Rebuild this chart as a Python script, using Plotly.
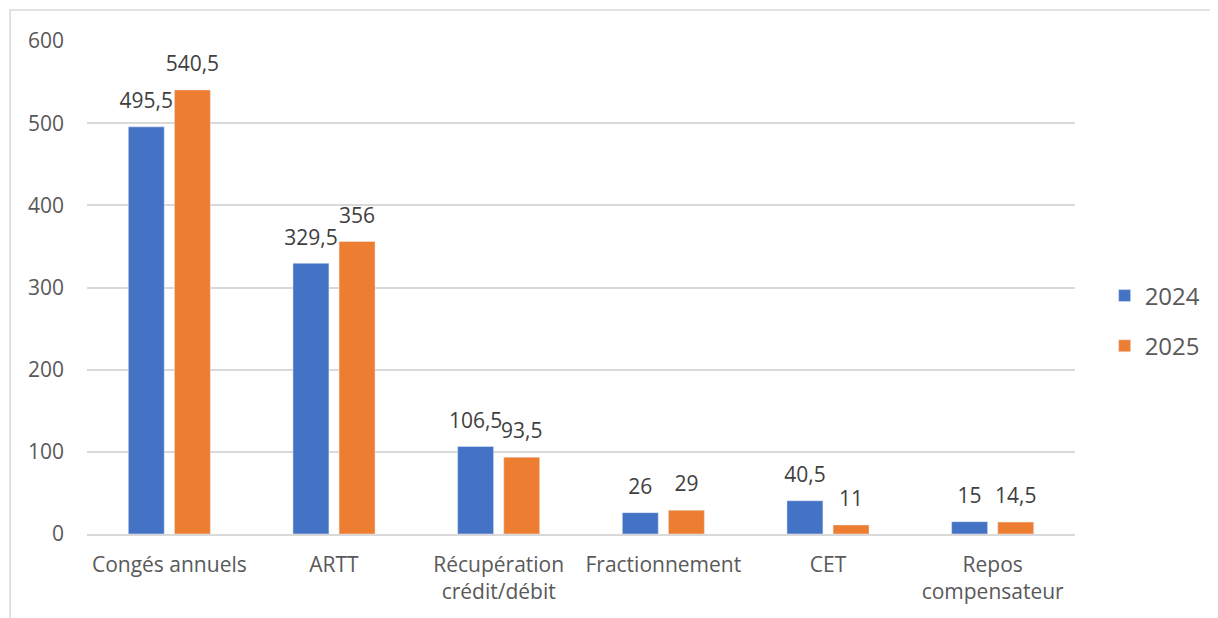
import plotly.graph_objects as go

categories = ["Congés annuels", "ARTT", "Récupération<br>crédit/débit", "Fractionnement", "CET", "Repos<br>compensateur"]
values_2024 = [495.5, 329.5, 106.5, 26, 40.5, 15]
values_2025 = [540.5, 356, 93.5, 29, 11, 14.5]
labels_2024 = ["495,5", "329,5", "106,5", "26", "40,5", "15"]
labels_2025 = ["540,5", "356", "93,5", "29", "11", "14,5"]
y_ticks = [0, 100, 200, 300, 400, 500, 600]

FONT = "'Open Sans', 'Noto Sans', sans-serif"
TXT = "#595959"
GAP = 0.44

fig = go.Figure()
fig.add_trace(go.Bar(name="2024", x=categories, y=values_2024, marker_color="#4472C4",
                     legendgroup="a", offsetgroup="a"))
fig.add_trace(go.Bar(name="2025", x=categories, y=values_2025, marker_color="#ED7D31",
                     legendgroup="b", offsetgroup="b"))
# data labels, grouped like the bars (invisible markers give the padding above the bar)
for vals, labs, grp in [(values_2024, labels_2024, "a"), (values_2025, labels_2025, "b")]:
    fig.add_trace(go.Scatter(x=categories, y=vals, text=labs, mode="markers+text",
                             marker=dict(size=20, color="rgba(0,0,0,0)"),
                             textposition="top center", orientation="v", offsetgroup=grp,
                             textfont=dict(size=21, color="#404040", family=FONT),
                             showlegend=False, cliponaxis=False, hoverinfo="skip"))

fig.update_layout(
    width=1210, height=610,
    margin=dict(l=79, r=141, t=33, b=84),
    paper_bgcolor="white", plot_bgcolor="white",
    barmode="group", bargap=GAP, bargroupgap=0.22,
    scattermode="group", scattergap=GAP,
    font=dict(family=FONT, color=TXT, size=21),
    legend=dict(x=1.03, y=0.432, xanchor="left", yanchor="middle",
                font=dict(size=24, color=TXT, family=FONT),
                traceorder="grouped", tracegroupgap=16),
    xaxis=dict(showline=True, linecolor="#d9d9d9", linewidth=1.5, ticks="",
               tickfont=dict(size=21, color=TXT), fixedrange=True, ticklabelstandoff=11),
    yaxis=dict(range=[0, 600], tickvals=y_ticks, showgrid=True, gridcolor="#d9d9d9",
               gridwidth=1.5, zeroline=False, ticks="", ticklen=0,
               tickfont=dict(size=21, color=TXT), ticklabelstandoff=22),
    shapes=[dict(type="rect", xref="paper", yref="paper",
                 x0=-0.0778, x1=1.2, y0=-0.25, y1=1.063,
                 line=dict(color="#d9d9d9", width=1.5), fillcolor="rgba(0,0,0,0)", layer="below")],
)

fig.write_html("out.html")
